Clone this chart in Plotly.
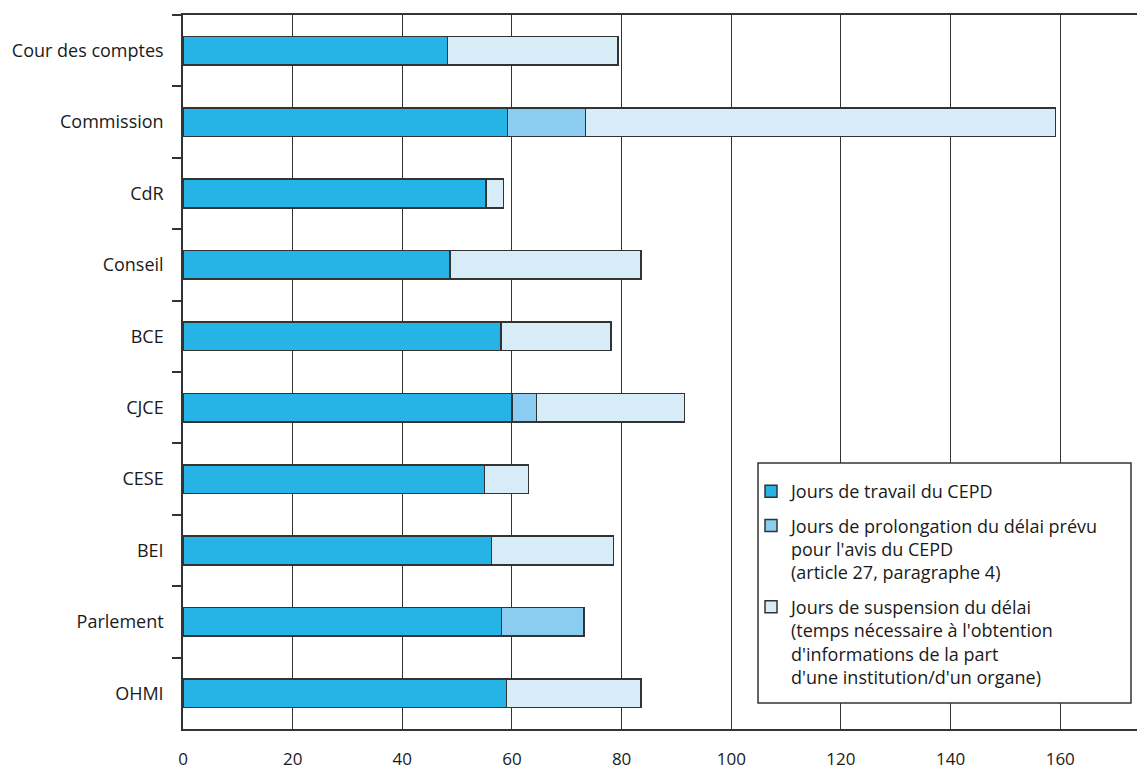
import plotly.graph_objects as go

categories = ["Cour des comptes", "Commission", "CdR", "Conseil", "BCE",
              "CJCE", "CESE", "BEI", "Parlement", "OHMI"]
travail = [48.2, 59.2, 55.3, 48.7, 58.0, 60.0, 55.0, 56.3, 58.1, 59.0]
prolongation = [0, 14.2, 0, 0, 0, 4.5, 0, 0, 15.0, 0]
suspension = [31.1, 85.7, 3.2, 34.8, 20.1, 27.0, 8.0, 22.2, 0, 24.5]

series_names = [
    "Jours de travail du CEPD",
    "Jours de prolongation du délai prévu<br>pour l'avis du CEPD<br>(article 27, paragraphe 4)",
    "Jours de suspension du délai<br>(temps nécessaire à l'obtention<br>d'informations de la part<br>d'une institution/d'un organe)",
]
series_colors = ["#26B4E7", "#8BCDF0", "#D8ECF8"]
x_ticks = [0, 20, 40, 60, 80, 100, 120, 140, 160]

FONT = "Open Sans"
L, T, W, H = 183, 15, 954, 714  # plot area in px
fig = go.Figure()
for name, vals, col, grp in zip(series_names, [travail, prolongation, suspension],
                                series_colors, ["a", "b", "c"]):
    fig.add_trace(go.Bar(
        y=categories, x=vals, orientation="h", name=name,
        legendgroup=grp,
        marker=dict(color=col, line=dict(color="#333333", width=1.5)),
        width=0.4,
    ))

# legend frame
fig.add_shape(
    type="rect", xref="paper", yref="paper",
    x0=(758 - L) / W, x1=(1131 - L) / W,
    y0=(T + H - 703) / H, y1=(T + H - 463) / H,
    line=dict(color="#333333", width=1.5), fillcolor="white", layer="above",
)

fig.update_layout(
    width=1137, height=770,
    barmode="stack",
    plot_bgcolor="white", paper_bgcolor="white",
    margin=dict(l=L, r=0, t=T, b=41),
    font=dict(family=FONT, size=16, color="#1a1a1a"),
    showlegend=True,
    legend=dict(
        x=(751 - L) / W, y=(T + H - 473) / H,
        xanchor="left", yanchor="top",
        bgcolor="rgba(0,0,0,0)", borderwidth=0,
        font=dict(family=FONT, size=18, color="#1a1a1a"),
        traceorder="grouped", tracegroupgap=8, valign="top",
    ),
    xaxis=dict(
        range=[0, 174], tickvals=x_ticks, ticktext=[str(v) for v in x_ticks],
        showgrid=True, gridcolor="#333333", gridwidth=1.3,
        showline=True, linecolor="#333333", linewidth=1.5, mirror=True,
        ticks="", zeroline=False, ticklabelstandoff=14,
        tickfont=dict(family=FONT, size=17, color="#1a1a1a"),
    ),
    yaxis=dict(
        categoryorder="array", categoryarray=categories,
        autorange="reversed",
        tickson="boundaries", ticks="outside", ticklen=9,
        tickcolor="#333333", tickwidth=1.5,
        showgrid=False, showline=True, linecolor="#333333", linewidth=1.5,
        ticklabelstandoff=14,
        tickfont=dict(family=FONT, size=18, color="#1a1a1a"),
    ),
)

fig.write_html("out.html")
